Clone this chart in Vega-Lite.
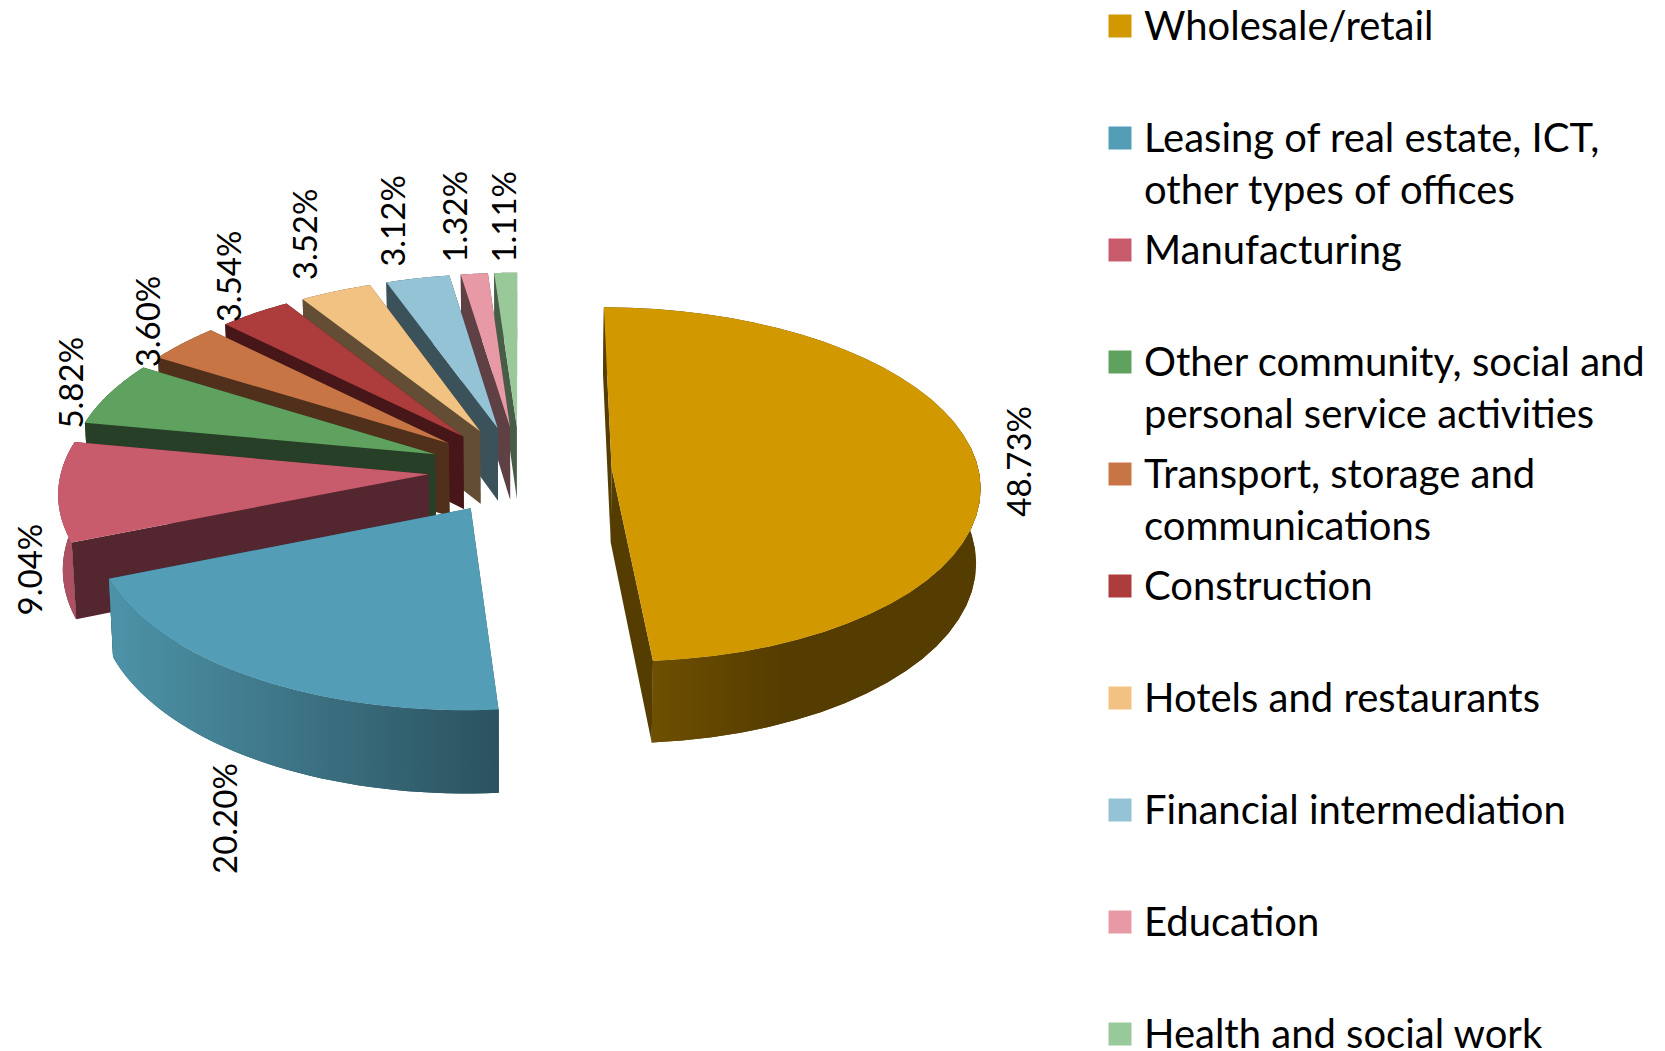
{
"$schema":"https://vega.github.io/schema/vega-lite/v6.json",
"width":1665,"height":1051,"padding":0,
"autosize":{"type":"fit","contains":"padding"},
"background":"white",
"config":{"view":{"stroke":null}},
"data":{"values":[
{"category":"Health and social work","share":1.11},
{"category":"Education","share":1.32},
{"category":"Financial intermediation","share":3.12},
{"category":"Hotels and restaurants","share":3.52},
{"category":"Construction","share":3.54},
{"category":"Transport, storage and communications","share":3.60},
{"category":"Other community, social and personal service activities","share":5.82},
{"category":"Manufacturing","share":9.04},
{"category":"Leasing of real estate, ICT, other types of offices","share":20.20},
{"category":"Wholesale/retail","share":48.73}
]},
"transform":[
{"window":[{"op":"sum","field":"share","as":"cum"},{"op":"row_number","as":"rank"}],"sort":[{"field":"share","order":"descending"}]},
{"calculate":"(datum.cum-datum.share)*PI/50","as":"t0"},
{"calculate":"datum.cum*PI/50","as":"t1"},
{"calculate":"(datum.t0+datum.t1)/2","as":"tm"},
{"calculate":"[0,1,2,3]","as":"part"},
{"flatten":["part"]},
{"calculate":"sequence(0,82)","as":"i"},
{"flatten":["i"]},
{"filter":"(datum.part==0&&datum.i<=41)||(datum.part==1&&datum.i<=81)||(datum.part>=2&&datum.i<=3)"},
{"calculate":"datum.part==0?(datum.i==0?0:1):datum.part==1?1:((datum.i==1||datum.i==2)?1:0)","as":"rad"},
{"calculate":"datum.part==0?datum.t0+(datum.t1-datum.t0)*(datum.i-1)/40:datum.part==1?datum.t0+(datum.t1-datum.t0)*(datum.i<=40?datum.i:81-datum.i)/40:datum.part==2?datum.t0:datum.t1","as":"th"},
{"calculate":"datum.part==0?0:datum.part==1?(datum.i>40?1:0):(datum.i>=2?1:0)","as":"low"},
{"calculate":"datum.rad*sin(datum.th)+0.25*sin(datum.tm)","as":"u"},
{"calculate":"datum.rad*cos(datum.th)+0.25*cos(datum.tm)","as":"v"},
{"calculate":"1/(1+0.092*datum.v)","as":"f"},
{"calculate":"520+367*datum.u*datum.f*(datum.low?0.99:1)","as":"px"},
{"calculate":"470-176*datum.v*datum.f+datum.low*74*datum.f","as":"py"},
{"calculate":"datum.part*1000+datum.rank*10","as":"shape"},
{"calculate":"sin(datum.tm)*1.25","as":"mu"},
{"calculate":"cos(datum.tm)*1.25","as":"mv"},
{"calculate":"520+370*datum.mu/(1+0.11*datum.mv)+[41,-17,-21,-36,-35,-26,-30,-24,-18,0][datum.rank-1]","as":"lx"},
{"calculate":"463-175*datum.mv/(1+0.11*datum.mv)+[7,145,85,-5,-17,-33,-54,-55,-55,-54][datum.rank-1]","as":"ly"},
{"calculate":"format(datum.share,'.2f')+'%'","as":"label"}
],
"encoding":{
"x":{"field":"px","type":"quantitative","scale":{"domain":[0,1665],"nice":false,"zero":false},"axis":null},
"y":{"field":"py","type":"quantitative","scale":{"domain":[1051,0],"nice":false,"zero":false},"axis":null},
"order":{"field":"i","type":"quantitative"},
"detail":{"field":"shape"}
},
"layer":[
{"transform":[{"filter":"datum.part>=1"}],
"mark":{"type":"line","strokeWidth":0,"clip":false},
"encoding":{
"fill":{"field":"category","type":"nominal","legend":null,"scale":{"domain":["Wholesale/retail","Leasing of real estate, ICT, other types of offices","Manufacturing","Other community, social and personal service activities","Transport, storage and communications","Construction","Hotels and restaurants","Financial intermediation","Education","Health and social work"],"range":["#553c00","#2c4f5c","#542630","#263f26","#50301b","#461618","#634e35","#3c525a","#5e4045","#485d48"]}}
}},
{"transform":[{"filter":"datum.part==1&&datum.rank==3"}],
"mark":{"type":"line","strokeWidth":0,"fill":"#ad5162"}},
{"transform":[{"filter":"datum.part==1&&datum.rank==2"}],
"mark":{"type":"line","strokeWidth":0,"fill":{"x1":0,"y1":0,"x2":1,"y2":0,"gradient":"linear","stops":[{"offset":0,"color":"#4d93a8"},{"offset":1,"color":"#2b525f"}]}}},
{"transform":[{"filter":"datum.part==1&&datum.rank==1&&datum.th>1.45"}],
"mark":{"type":"line","strokeWidth":0,"fill":{"x1":0,"y1":0,"x2":1,"y2":0,"gradient":"linear","stops":[{"offset":0,"color":"#6e5000"},{"offset":0.4,"color":"#553c00"},{"offset":1,"color":"#553c00"}]}}},
{"transform":[{"filter":"datum.part==0"}],
"mark":{"type":"line","strokeWidth":0},
"encoding":{
"fill":{"field":"category","type":"nominal",
"scale":{"domain":["Wholesale/retail","Leasing of real estate, ICT, other types of offices","Manufacturing","Other community, social and personal service activities","Transport, storage and communications","Construction","Hotels and restaurants","Financial intermediation","Education","Health and social work"],"range":["#d19800","#539eb6","#c95c6c","#5fa25f","#c87545","#ad3c3c","#f2c283","#93c3d5","#e79aa5","#99c999"]},
"legend":{"title":null,"orient":"none","legendX":1100,"legendY":6,"symbolType":"square","symbolSize":529,"symbolStrokeWidth":0,"gridAlign":"all","rowPadding":18,"labelFont":"Lato","labelFontSize":40,"labelColor":"#000000","labelLimit":700,"labelOffset":4,"labelBaseline":"top",
"labelExpr":"datum.label=='Leasing of real estate, ICT, other types of offices'?['Leasing of real estate, ICT,','other types of offices']:datum.label=='Other community, social and personal service activities'?['Other community, social and','personal service activities']:datum.label=='Transport, storage and communications'?['Transport, storage and','communications']:datum.label",
"encoding":{"labels":{"lineHeight":{"value":52},"dy":{"value":-18}}}}
}}},
{"transform":[{"filter":"datum.part==0&&datum.i==0"}],
"mark":{"type":"text","angle":270,"align":"center","baseline":"middle","font":"Lato","fontSize":33,"color":"#000000"},
"encoding":{
"x":{"field":"lx","type":"quantitative"},
"y":{"field":"ly","type":"quantitative"},
"text":{"field":"label"}
}}
],
"resolve":{"scale":{"fill":"independent","stroke":"independent"}}
}
